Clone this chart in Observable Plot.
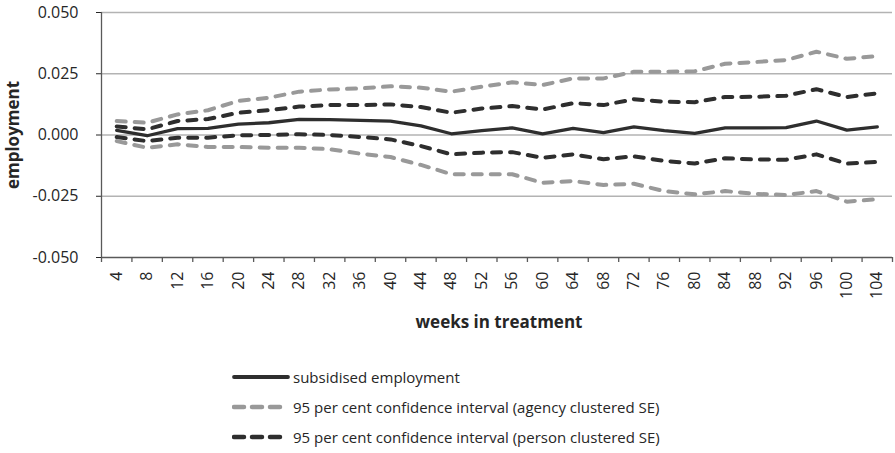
<!DOCTYPE html>
<html><head><meta charset="utf-8">
<script src="https://cdn.jsdelivr.net/npm/d3@7"></script>
<script src="https://cdn.jsdelivr.net/npm/@observablehq/plot@0.6"></script>
<style>
body{margin:0;background:#fff;font-family:"Open Sans",sans-serif;}
#legend{margin-left:232px;margin-top:17px;}
.row{display:flex;align-items:center;height:30px;font-size:15px;color:#262626;}
.row svg{margin-right:3px;}
</style></head><body>
<div id="chart"></div>
<div id="legend"></div>
<script>
const weeks = [4,8,12,16,20,24,28,32,36,40,44,48,52,56,60,64,68,72,76,80,84,88,92,96,100,104];
const subsidised  = [0.0019,-0.0003,0.0026,0.0027,0.0044,0.0050,0.0064,0.0063,0.0060,0.0057,0.0037,0.0005,0.0018,0.0029,0.0005,0.0027,0.0010,0.0033,0.0018,0.0007,0.0029,0.0029,0.0030,0.0057,0.0020,0.0033];
const agencyUpper = [0.0057,0.0050,0.0084,0.0101,0.0139,0.0152,0.0177,0.0186,0.0190,0.0199,0.0193,0.0177,0.0197,0.0215,0.0204,0.0231,0.0231,0.0258,0.0258,0.0260,0.0291,0.0298,0.0306,0.0340,0.0311,0.0322];
const agencyLower = [-0.0025,-0.0052,-0.0038,-0.0049,-0.0049,-0.0052,-0.0052,-0.0058,-0.0076,-0.0090,-0.0122,-0.0160,-0.0160,-0.0160,-0.0195,-0.0188,-0.0204,-0.0199,-0.0229,-0.0242,-0.0229,-0.0240,-0.0245,-0.0229,-0.0272,-0.0262];
const personUpper = [0.0035,0.0023,0.0057,0.0065,0.0091,0.0101,0.0116,0.0122,0.0122,0.0125,0.0114,0.0091,0.0108,0.0118,0.0104,0.0130,0.0122,0.0146,0.0136,0.0134,0.0155,0.0156,0.0160,0.0187,0.0155,0.0170];
const personLower = [-0.0008,-0.0025,-0.0011,-0.0011,-0.0001,0.0000,0.0003,0.0000,-0.0008,-0.0018,-0.0045,-0.0079,-0.0072,-0.0070,-0.0093,-0.0079,-0.0099,-0.0087,-0.0106,-0.0116,-0.0095,-0.0100,-0.0101,-0.0079,-0.0117,-0.0110];
const yTicks = [-0.050,-0.025,0.000,0.025,0.050];
const seriesLabels = ["subsidised employment","95 per cent confidence interval (agency clustered SE)","95 per cent confidence interval (person clustered SE)"];
const xTitle = "weeks in treatment";
const yTitle = "employment";

const DARK = "#2e2e2e", GRAY = "#999999";
const boundaries = [...weeks.map(w => w - 2), weeks[weeks.length - 1] + 2];
const rows = (vals, key) => weeks.map((w, i) => ({week: w, value: vals[i], key}));
const agency = [...rows(agencyUpper, "au"), ...rows(agencyLower, "al")];
const person = [...rows(personUpper, "pu"), ...rows(personLower, "pl")];
const main = rows(subsidised, "s");

const chart = Plot.plot({
  width: 895, height: 345,
  marginLeft: 101, marginRight: 3, marginTop: 12, marginBottom: 88,
  style: {fontFamily: "'Open Sans', sans-serif", fontSize: "16px", color: "#262626", background: "#fff"},
  x: {type: "linear", domain: [2, 106], axis: null},
  y: {domain: [-0.05, 0.05], ticks: yTicks, tickFormat: d => d.toFixed(3), tickSize: 5, tickPadding: 18, label: null},
  marks: [
    Plot.ruleY(yTicks.filter(t => t > -0.05), {stroke: "#b3b3b3", strokeWidth: 1.3}),
    Plot.ruleY([-0.05], {stroke: "#595959", strokeWidth: 1.3}),
    Plot.ruleX([2], {y1: -0.05, y2: 0.05, stroke: "#595959", strokeWidth: 1.3}),
    Plot.ruleX(boundaries, {x: d => d, y1: -0.05, y2: -0.05, insetBottom: -5, stroke: "#595959", strokeWidth: 1.3}),
    Plot.text(weeks, {x: d => d, y: -0.05, text: d => String(d), rotate: -90, textAnchor: "end", lineAnchor: "middle", dy: 14, fontSize: 16, fill: "#262626"}),
    Plot.line(agency, {x: "week", y: "value", z: "key", stroke: GRAY, strokeWidth: 4, strokeDasharray: "9,9", strokeLinecap: "round"}),
    Plot.line(person, {x: "week", y: "value", z: "key", stroke: DARK, strokeWidth: 4, strokeDasharray: "9,9", strokeLinecap: "round"}),
    Plot.line(main, {x: "week", y: "value", stroke: DARK, strokeWidth: 3.3}),
    Plot.text([yTitle], {frameAnchor: "left", textAnchor: "middle", rotate: -90, dx: -88, fontWeight: "bold", fontSize: 17, fill: "#262626"}),
    Plot.text([xTitle], {frameAnchor: "bottom", dx: 2, dy: 70, fontWeight: "bold", fontSize: 17, fill: "#262626"})
  ]
});
document.getElementById("chart").appendChild(chart);

const legend = document.getElementById("legend");
const styles = [
  {stroke: DARK, dash: null, width: 3.8},
  {stroke: GRAY, dash: "10,8", width: 4.5},
  {stroke: DARK, dash: "10,8", width: 4.5}
];
seriesLabels.forEach((label, i) => {
  const row = document.createElement("div");
  row.className = "row";
  const s = styles[i];
  row.innerHTML = `<svg width="58" height="10"><line x1="2" y1="5" x2="56" y2="5" stroke="${s.stroke}" stroke-width="${s.width}" stroke-linecap="round" ${s.dash ? `stroke-dasharray="${s.dash}"` : ""}/></svg><span>${label}</span>`;
  legend.appendChild(row);
});
</script>
</body></html>
